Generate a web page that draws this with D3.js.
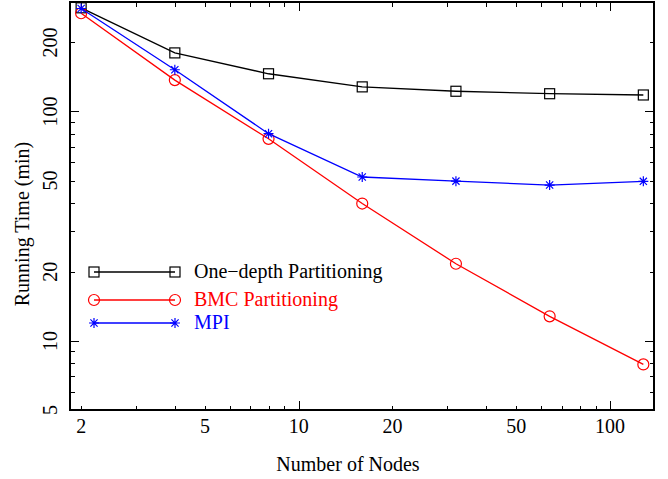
<!DOCTYPE html>
<html>
<head>
<meta charset="utf-8">
<script src="https://cdn.jsdelivr.net/npm/d3@7"></script>
<style>
    body { margin: 0; background: #fff; }
    #chart { width: 668px; height: 479px; }
    text { font-family: "Liberation Serif", "Times New Roman", serif; }
</style>
</head>
<body>
<div id="chart"></div>
<script>
// data
let nodes = [2, 4, 8, 16, 32, 64, 128];
let oneDepth = [283, 180, 146, 128, 122.5, 119.5, 118];
let bmc = [268, 137, 76, 39.7, 21.7, 12.8, 7.9];
let mpi = [281, 152, 80, 51.8, 49.7, 47.8, 49.6];

let seriesNames = ["One\u2212depth Partitioning", "BMC Partitioning", "MPI"];
let seriesColors = ["#000000", "#ff0000", "#0000ff"];
let seriesMarks = ["square", "circle", "star"];

let xLabelTicks = [2, 5, 10, 20, 50, 100];
let xMajorTicks = [10, 100];
let xMinorTicks = [2, 3, 4, 5, 6, 7, 8, 9, 20, 30, 40, 50, 60, 70, 80, 90];
let yLabelTicks = [5, 10, 20, 50, 100, 200];
let yMajorTicks = [10, 100];
let yMinorTicks = [6, 7, 8, 9, 20, 30, 40, 50, 60, 70, 80, 90, 200];

function initChart() {
    let margin = { top: 2, right: 14, bottom: 69, left: 70 },
        width = 668 - margin.left - margin.right,
        height = 479 - margin.top - margin.bottom;

    let svg = d3.select("#chart").append("svg")
        .attr("width", 668)
        .attr("height", 479)
        .append("g")
        .attr("transform", "translate(" + margin.left + "," + margin.top + ")");

    let x = d3.scaleLog().domain([1.842, 138.5]).range([0, width]);
    let y = d3.scaleLog().domain([5, 300]).range([height, 0]);

    // ticks on all four sides, pointing inwards
    function tickAxes(xValues, yValues, len) {
        svg.append("g")
            .attr("transform", "translate(0," + height + ")")
            .call(d3.axisBottom(x).tickValues(xValues).tickSize(-len).tickFormat(""));
        svg.append("g")
            .call(d3.axisTop(x).tickValues(xValues).tickSize(-len).tickFormat(""));
        svg.append("g")
            .call(d3.axisLeft(y).tickValues(yValues).tickSize(-len).tickFormat(""));
        svg.append("g")
            .attr("transform", "translate(" + width + ",0)")
            .call(d3.axisRight(y).tickValues(yValues).tickSize(-len).tickFormat(""));
    }
    tickAxes(xMinorTicks, yMinorTicks, 4.5);
    tickAxes(xMajorTicks, yMajorTicks, 9);
    svg.selectAll(".domain").remove();
    svg.selectAll(".tick line").attr("stroke", "#000").attr("shape-rendering", "crispEdges");

    // frame
    svg.append("rect")
        .attr("width", width)
        .attr("height", height)
        .attr("fill", "none")
        .attr("stroke", "#000")
        .attr("stroke-width", 1.2)
        .attr("shape-rendering", "crispEdges");

    // x tick labels
    svg.selectAll(".xlab")
        .data(xLabelTicks)
        .enter().append("text")
        .attr("class", "xlab")
        .attr("x", d => x(d))
        .attr("y", height + 23)
        .attr("text-anchor", "middle")
        .style("font-size", "20px")
        .text(d => d);

    // y tick labels, rotated
    svg.selectAll(".ylab")
        .data(yLabelTicks)
        .enter().append("text")
        .attr("class", "ylab")
        .attr("transform", d => "translate(" + (57 - margin.left) + "," + y(d) + ") rotate(-90)")
        .attr("text-anchor", "middle")
        .style("font-size", "20px")
        .text(d => d);

    // axis titles
    svg.append("text")
        .attr("x", 348 - margin.left)
        .attr("y", 471 - margin.top)
        .attr("text-anchor", "middle")
        .style("font-size", "20px")
        .text("Number of Nodes");

    svg.append("text")
        .attr("transform", "translate(" + (29 - margin.left) + "," + (224 - margin.top) + ") rotate(-90)")
        .attr("text-anchor", "middle")
        .style("font-size", "20px")
        .text("Running Time (min)");

    let allSeries = [oneDepth, bmc, mpi];

    function drawMark(g, kind, color) {
        if (kind === "square") {
            g.append("rect").attr("x", -5).attr("y", -5).attr("width", 10).attr("height", 10)
                .attr("fill", "none").attr("stroke", color).attr("stroke-width", 1.2);
        } else if (kind === "circle") {
            g.append("circle").attr("r", 5.5)
                .attr("fill", "none").attr("stroke", color).attr("stroke-width", 1.2);
        } else {
            g.append("path").attr("d", "M0,-5V5M-5,0H5M-3.6,-3.6L3.6,3.6M-3.6,3.6L3.6,-3.6")
                .attr("fill", "none").attr("stroke", color).attr("stroke-width", 1.2);
        }
    }

    let line = d3.line()
        .x(d => x(d[0]))
        .y(d => y(d[1]));

    allSeries.forEach((values, i) => {
        let pts = nodes.map((n, j) => [n, values[j]]);
        svg.append("path")
            .datum(pts)
            .attr("fill", "none")
            .attr("stroke", seriesColors[i])
            .attr("stroke-width", 1.3)
            .attr("d", line);
        pts.forEach(p => {
            let g = svg.append("g").attr("transform", "translate(" + x(p[0]) + "," + y(p[1]) + ")");
            drawMark(g, seriesMarks[i], seriesColors[i]);
        });
    });

    // legend
    let legendY = [272, 300, 323];
    seriesNames.forEach((name, i) => {
        let ly = legendY[i] - margin.top;
        let x0 = 94 - margin.left, x1 = 175 - margin.left;
        svg.append("line")
            .attr("x1", x0).attr("x2", x1)
            .attr("y1", ly).attr("y2", ly)
            .attr("stroke", seriesColors[i])
            .attr("stroke-width", 1.3);
        [x0, x1].forEach(lx => {
            let g = svg.append("g").attr("transform", "translate(" + lx + "," + ly + ")");
            drawMark(g, seriesMarks[i], seriesColors[i]);
        });
        svg.append("text")
            .attr("x", 194 - margin.left)
            .attr("y", ly + 6)
            .attr("fill", seriesColors[i])
            .style("font-size", "20px")
            .text(name);
    });
}

initChart();
</script>
</body>
</html>
